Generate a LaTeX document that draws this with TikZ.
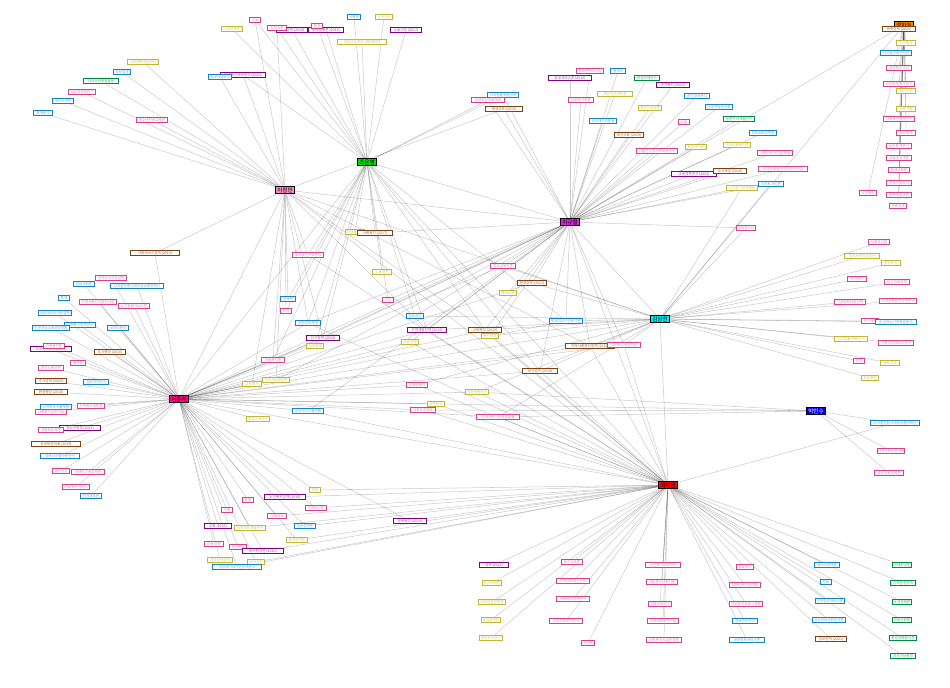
\documentclass[tikz,border=0pt]{standalone}
\usepackage{fontspec}
\setmainfont{Noto Sans CJK KR}
\pgfdeclarelayer{edges}
\pgfsetlayers{edges,main}

\definecolor{leafpk}{HTML}{D6408C}
\definecolor{leafbl}{HTML}{1682C6}
\definecolor{leafol}{HTML}{C2B632}
\definecolor{leafbr}{HTML}{7E4210}
\definecolor{leafpu}{HTML}{800080}
\definecolor{leafgr}{HTML}{008A48}
\definecolor{hubgrn}{HTML}{00E000}
\definecolor{hubpnk}{HTML}{FF88C8}
\definecolor{hubmag}{HTML}{E020E0}
\definecolor{hubcyn}{HTML}{00F0F0}
\definecolor{hubrose}{HTML}{FF0A80}
\definecolor{hubblu}{HTML}{0000FF}
\definecolor{hubred}{HTML}{FF0000}
\definecolor{huborg}{HTML}{FF8800}

\tikzset{
  leaf/.style={draw, fill=white, line width=0.55pt, inner sep=0.2pt, minimum height=3.3pt, font=\fontsize{2.7}{3}\selectfont},
  pk/.style={leaf, draw=leafpk, text=leafpk!70},
  bl/.style={leaf, draw=leafbl, text=leafbl!70},
  ol/.style={leaf, draw=leafol, text=leafol!80},
  br/.style={leaf, draw=leafbr, text=leafbr!80},
  pu/.style={leaf, draw=leafpu, text=leafpu!75},
  gr/.style={leaf, draw=leafgr, text=leafgr!75},
  wd/.style={minimum width=#1*0.75pt-0.5pt},
  hub/.style={draw=black, line width=0.8pt, inner sep=0.3pt, minimum width=14pt, minimum height=5.6pt, font=\fontsize{4.2}{5}\selectfont},
  link/.style={draw=black, opacity=0.2, line width=0.4pt},
}

\begin{document}
\begin{tikzpicture}[x=0.75pt, y=-0.75pt]
  \useasboundingbox (0,0) rectangle (950,688);

  % hubs
  \node[hub, fill=hubgrn] (hub-grn) at (367,162) {조은영};
  \node[hub, fill=hubpnk] (hub-pnk) at (285,190) {이정민};
  \node[hub, fill=hubmag] (hub-mag) at (570,222) {이규철};
  \node[hub, fill=hubcyn] (hub-cyn) at (660,319) {김상현};
  \node[hub, fill=hubrose] (hub-rose) at (179,399) {서준석};
  \node[hub, fill=hubblu, text=white] (hub-blu) at (816,411) {박민수};
  \node[hub, fill=hubred] (hub-red) at (668,485) {최지원};
  \node[hub, fill=huborg] (hub-org) at (904,25) {정하늘};

  % top
  \node[ol, wd=22] (t1) at (232,29) {기후변화론};
  \node[pk, wd=11] (t2) at (255,20) {교육};
  \node[pu, wd=32] (t4) at (292,30) {복지정책 (2018)};
  \node[pk, wd=19] (t3) at (277,28) {지역사회};
  \node[pu, wd=35] (t6) at (326,30) {도시계획론 (2019)};
  \node[pk, wd=11] (t5) at (317,26) {환경};
  \node[bl, wd=14] (t7) at (354,17) {사회학};
  \node[ol, wd=18] (t8) at (384,17) {인구구조};
  \node[pu, wd=32] (t9) at (406,30) {노동시장 (2017)};
  \node[ol, wd=49] (t10) at (362,42) {지속가능한도시재생전략};

  % top left
  \node[ol, wd=31] (a1) at (143,62) {기후변화적응전략};
  \node[bl, wd=18] (a2) at (122,72) {정보검색};
  \node[gr, wd=35] (a3) at (101,81) {지역사회통합돌봄};
  \node[pk, wd=28] (a4) at (82,92) {사회적경제연구};
  \node[bl, wd=22] (a5) at (63,101) {데이터과학};
  \node[bl, wd=19] (a6) at (43,113) {통계분석};
  \node[pk, wd=31] (a7) at (152,120) {청소년진로교육론};
  \node[pu, wd=45] (a9) at (243,75) {지역혁신체계연구 (2020)};
  \node[bl, wd=24] (a8) at (220,77) {빅데이터분석};

  % top middle
  \node[pk, wd=28] (m1) at (590,71) {문화콘텐츠산업};
  \node[bl, wd=16] (m2) at (618,71) {행정학};
  \node[pu, wd=43] (m3) at (570,78) {공공서비스론 (2016)};
  \node[gr, wd=25] (m4) at (647,78) {환경경제연구};
  \node[pu, wd=34] (m5) at (673,85) {주거복지 (2021)};
  \node[bl, wd=32] (m6) at (503,95) {디지털플랫폼경제};
  \node[pk, wd=33] (m7) at (488,100) {공공보건의료체계};
  \node[ol, wd=36] (m8) at (615,94) {재난안전관리론};
  \node[pk, wd=26] (m9) at (581,100) {다문화가족론};
  \node[bl, wd=25] (m10) at (697,96) {공간정보분석};
  \node[br, wd=37] (m11) at (504,109) {평생교육 (2015)};
  \node[ol, wd=24] (m12) at (650,108) {청년고용정책};
  \node[bl, wd=28] (m13) at (719,107) {인공지능윤리학};
  \node[bl, wd=28] (m14) at (603,121) {공공데이터활용};
  \node[pk, wd=12] (m15) at (684,122) {노동};
  \node[gr, wd=31] (m16) at (739,119) {농촌지역개발연구};
  \node[br, wd=30] (m17) at (629,135) {보건의료 (2019)};
  \node[bl, wd=28] (m18) at (763,133) {정보보호정책론};
  \node[ol, wd=22] (m19) at (696,147) {복지국가론};
  \node[ol, wd=28] (m20) at (737,145) {지역사회복지론};
  \node[pk, wd=41] (m21) at (657,151) {저출산고령사회대응연구};
  \node[pk, wd=35] (m22) at (775,153) {사회서비스전달체계};
  \node[pu, wd=45] (m23) at (694,174) {교육격차연구 (2022)};
  \node[br, wd=33] (m24) at (730,171) {도시재생 (2018)};
  \node[pk, wd=49] (m25) at (783,169) {지역균형발전정책연구사업};
  \node[ol, wd=31] (m26) at (742,188) {노인장기요양제도};
  \node[bl, wd=25] (m27) at (771,184) {스마트시티론};
  \node[pk, wd=20] (m28) at (746,228) {아동청소년};

  % top right
  \node[br, wd=34] (r1) at (899,29) {문화정책 (2020)};
  \node[ol, wd=19] (r2) at (906,43) {주거환경};
  \node[bl, wd=32] (r3) at (896,53) {디지털전환전략론};
  \node[pk, wd=25] (r4) at (899,68) {지역혁신사업};
  \node[pk, wd=31] (r5) at (899,84) {공공정책평가연구};
  \node[ol, wd=19] (r6) at (906,91) {재난안전};
  \node[ol, wd=19] (r7) at (906,109) {농촌개발};
  \node[pk, wd=31] (r8) at (899,119) {사회복지행정연구};
  \node[pk, wd=19] (r9) at (906,133) {청년정책};
  \node[pk, wd=25] (r10) at (899,146) {보건통계분석};
  \node[pk, wd=25] (r11) at (899,158) {교육과정개발};
  \node[pk, wd=22] (r12) at (899,170) {평생교육론};
  \node[pk, wd=25] (r13) at (899,183) {지역사회조사};
  \node[pk, wd=25] (r14) at (899,195) {문화예술교육};
  \node[pk, wd=18] (r15) at (868,193) {노인복지};
  \node[pk, wd=18] (r16) at (898,206) {가족정책};

  % right
  \node[pk, wd=22] (e1) at (879,242) {사회조사법};
  \node[ol, wd=36] (e2) at (862,256) {지역사회건강조사};
  \node[ol, wd=19] (e3) at (891,263) {환경보전};
  \node[pk, wd=19] (e4) at (857,279) {주거복지};
  \node[pk, wd=26] (e5) at (897,282) {보건의료정책};
  \node[pk, wd=31] (e6) at (850,302) {기후변화대응전략};
  \node[pk, wd=38] (e7) at (898,301) {지역균형발전정책연구};
  \node[pk, wd=18] (e8) at (870,321) {도시계획};
  \node[bl, wd=42] (e9) at (896,322) {인공지능기반학습분석};
  \node[ol, wd=34] (e10) at (851,339) {디지털플랫폼연구};
  \node[pk, wd=36] (e11) at (896,343) {사회적경제조직연구};
  \node[pk, wd=12] (e12) at (859,361) {안전};
  \node[ol, wd=19] (e13) at (890,363) {문화정책};
  \node[ol, wd=18] (e14) at (870,378) {공공행정};
  \node[bl, wd=50] (f1) at (895,423) {디지털전환시대공공행정혁신};
  \node[pk, wd=28] (f2) at (891,451) {지역사회보장계획};
  \node[pk, wd=29] (f3) at (889,473) {공공의료체계론};

  % centre
  \node[ol, wd=20] (c1) at (355,232) {정책평가론};
  \node[br, wd=35] (c2) at (375,233) {사회복지 (2017)};
  \node[pk, wd=32] (c3) at (308,255) {도시공간구조분석};
  \node[ol, wd=19] (c4) at (382,272) {노동정책};
  \node[pk, wd=25] (c5) at (503,266) {청소년복지론};
  \node[br, wd=30] (c6) at (532,283) {환경정책 (2021)};
  \node[ol, wd=17] (c7) at (508,293) {통계교육};
  \node[bl, wd=15] (c8) at (288,299) {경제학};
  \node[pk, wd=11] (c9) at (388,300) {건강};
  \node[pk, wd=11] (c10) at (286,311) {주거};
  \node[bl, wd=17] (c11) at (415,316) {정보윤리};
  \node[bl, wd=25] (c12) at (308,323) {공간정보체계};
  \node[pu, wd=40] (c13) at (427,330) {지역개발정책 (2016)};
  \node[br, wd=33] (c14) at (485,330) {교육행정 (2019)};
  \node[ol, wd=18] (c15) at (490,336) {복지재정};
  \node[bl, wd=34] (c16) at (566,321) {빅데이터기반분석론};
  \node[pu, wd=34] (c17) at (323,338) {인구정책 (2020)};
  \node[ol, wd=18] (c18) at (315,346) {지역경제};
  \node[ol, wd=17] (c19) at (410,342) {의료정책};
  \node[pk, wd=23] (c20) at (273,360) {아동복지론};
  \node[br, wd=36] (c21) at (540,371) {보건정책 (2018)};
  \node[ol, wd=19] (c22) at (252,384) {교육평가};
  \node[ol, wd=28] (c23) at (276,380) {지속가능발전론};
  \node[pk, wd=21] (c24) at (417,385) {장애인복지};
  \node[ol, wd=24] (c25) at (477,392) {지역문화연구};
  \node[ol, wd=18] (c26) at (436,404) {정책분석};
  \node[pk, wd=25] (c27) at (423,410) {사회보장제도};
  \node[bl, wd=31] (c28) at (308,411) {공공데이터플랫폼};
  \node[pk, wd=44] (c29) at (498,417) {지역사회기반통합돌봄};
  \node[ol, wd=24] (c30) at (258,419) {환경교육연구};
  \node[br, wd=50] (c31) at (590,346) {지역사회복지정책 (2022)};
  \node[pk, wd=33] (c32) at (624,345) {다문화교육정책론};

  % left
  \node[br, wd=50] (w1) at (155,253) {사회서비스정책 (2019)};
  \node[pk, wd=31] (w2) at (111,278) {청년주거지원정책};
  \node[bl, wd=21] (w3) at (84,284) {정보사회론};
  \node[bl, wd=54] (w4) at (137,286) {디지털전환시대의공공행정혁신};
  \node[bl, wd=11] (w5) at (64,298) {통계};
  \node[pk, wd=38] (w6) at (98,302) {지역사회건강증진사업};
  \node[pk, wd=31] (w7) at (134,306) {노인돌봄서비스론};
  \node[bl, wd=33] (w8) at (55,313) {공공데이터개방정책};
  \node[bl, wd=31] (w9) at (80,325) {정보통신정책연구};
  \node[bl, wd=37] (w10) at (51,328) {인공지능교육과정개발};
  \node[bl, wd=21] (w11) at (118,328) {데이터분석};
  \node[pu, wd=41] (w13) at (51,349) {교육복지정책 (2017)};
  \node[pk, wd=21] (w12) at (54,346) {가족복지론};
  \node[br, wd=31] (w14) at (110,352) {도시행정 (2016)};
  \node[pk, wd=15] (w15) at (78,363) {복지학};
  \node[pk, wd=25] (w16) at (51,368) {여성노동정책};
  \node[br, wd=31] (w17) at (51,381) {주거정책 (2020)};
  \node[br, wd=34] (w18) at (51,392) {환경행정 (2018)};
  \node[bl, wd=25] (w19) at (96,382) {정보격차연구};
  \node[bl, wd=31] (w20) at (56,407) {스마트도시플랫폼};
  \node[pk, wd=28] (w21) at (91,406) {지역복지계획론};
  \node[pk, wd=32] (w22) at (51,412) {사회복지실천기술};
  \node[pu, wd=41] (w23) at (80,428) {청소년정책 (2021)};
  \node[pk, wd=26] (w24) at (51,430) {아동보호체계};
  \node[br, wd=50] (w25) at (56,444) {공공보건의료 (2019)};
  \node[bl, wd=40] (w26) at (60,456) {정보시스템구축연구};
  \node[pk, wd=18] (w27) at (61,471) {정신건강};
  \node[pk, wd=34] (w28) at (88,472) {장애인고용정책론};
  \node[pk, wd=28] (w29) at (76,487) {의료복지서비스};
  \node[bl, wd=22] (w30) at (91,496) {전자정부론};

  % bottom left
  \node[ol, wd=12] (s1) at (315,490) {재정};
  \node[pk, wd=12] (s2) at (248,500) {돌봄};
  \node[pu, wd=42] (s3) at (285,497) {노인복지정책 (2018)};
  \node[pk, wd=21] (s4) at (316,508) {지역보건론};
  \node[pk, wd=12] (s5) at (227,510) {가족};
  \node[pk, wd=19] (s6) at (277,516) {사회보장};
  \node[bl, wd=21] (s7) at (305,526) {정보정책론};
  \node[pu, wd=27] (s8) at (218,526) {교육 (2016)};
  \node[ol, wd=32] (s9) at (250,528) {지역사회개발연구};
  \node[pu, wd=33] (s10) at (410,521) {문화행정 (2019)};
  \node[ol, wd=21] (s11) at (297,540) {환경정책론};
  \node[pk, wd=19] (s12) at (214,544) {아동정책};
  \node[pk, wd=18] (s13) at (238,547) {청년복지};
  \node[pu, wd=42] (s14) at (263,551) {복지행정론 (2020)};
  \node[ol, wd=25] (s15) at (220,560) {지역경제정책};
  \node[ol, wd=18] (s16) at (256,562) {녹색성장};
  \node[bl, wd=49] (s17) at (237,567) {공공데이터기반정책분석};

  % bottom
  \node[pu, wd=30] (b1) at (494,565) {정책 (2022)};
  \node[ol, wd=20] (b2) at (492,583) {도시정책론};
  \node[ol, wd=28] (b3) at (492,602) {지역산업정책론};
  \node[ol, wd=20] (b4) at (491,620) {농업정책론};
  \node[ol, wd=24] (b5) at (491,638) {환경보건연구};
  \node[pk, wd=22] (b6) at (572,562) {보건교육론};
  \node[pk, wd=34] (b7) at (573,581) {지역사회정신건강};
  \node[pk, wd=34] (b8) at (573,599) {사회복지정책분석};
  \node[pk, wd=34] (b9) at (566,621) {여성가족정책연구};
  \node[pk, wd=14] (b10) at (588,643) {보건학};
  \node[pk, wd=35] (b11) at (663,565) {노인장기요양연구};
  \node[pk, wd=32] (b12) at (662,582) {아동청소년복지론};
  \node[pk, wd=24] (b13) at (660,604) {가족상담연구};
  \node[pk, wd=31] (b14) at (663,621) {지역사회보건사업};
  \node[pk, wd=35] (b15) at (664,640) {사회복지시설운영론};
  \node[pk, wd=18] (b16) at (745,567) {의료복지};
  \node[pk, wd=31] (b17) at (745,585) {장애인복지정책론};
  \node[pk, wd=34] (b18) at (746,604) {건강증진프로그램론};
  \node[bl, wd=25] (b19) at (745,621) {정보관리연구};
  \node[bl, wd=35] (b20) at (747,640) {공공정보서비스론};
  \node[bl, wd=25] (b21) at (827,565) {데이터정책론};
  \node[bl, wd=12] (b22) at (826,582) {정보};
  \node[bl, wd=30] (b23) at (830,601) {전자정부서비스론};
  \node[bl, wd=34] (b24) at (829,620) {지능정보사회정책론};
  \node[br, wd=32] (b25) at (831,639) {정보정책 (2021)};
  \node[gr, wd=20] (b26) at (902,565) {생태환경론};
  \node[gr, wd=26] (b27) at (903,583) {기후환경정책};
  \node[gr, wd=20] (b28) at (902,602) {녹색경제론};
  \node[gr, wd=20] (b29) at (902,620) {자원순환론};
  \node[gr, wd=28] (b30) at (903,638) {환경영향평가론};
  \node[gr, wd=26] (b31) at (903,656) {지속가능환경};

  \begin{pgfonlayer}{edges}
    \foreach \i in {1,...,10} \draw[link] (hub-grn) -- (t\i);
    \foreach \n in {a9,m6,m7,c1,c2,c3,c4,c8,c9,c10,c11,c12,c13,c14,c16,c17,c18,c20,c21,hub-mag,hub-red,hub-rose}
      \draw[link] (hub-grn) -- (\n);
    \foreach \i in {1,...,9} \draw[link] (hub-pnk) -- (a\i);
    \foreach \n in {m11,w1,c3,c8,c10,c12,c13,c14,c17,c20,c22,c23,c31,t2,t3,hub-rose,hub-red,hub-mag,hub-cyn}
      \draw[link] (hub-pnk) -- (\n);
    \foreach \i in {1,...,28} \draw[link] (hub-mag) -- (m\i);
    \foreach \n in {c2,c5,c6,c7,c9,c11,c12,c13,c14,c15,c16,c17,c19,c20,c21,c23,c28,c31,c32,hub-cyn,hub-red,hub-rose,hub-org}
      \draw[link] (hub-mag) -- (\n);
    \foreach \i in {1,...,14} \draw[link] (hub-cyn) -- (e\i);
    \foreach \n in {c5,c6,c11,c13,c14,c15,c16,c21,c24,c25,c29,c31,c32,m26,m27,m28,hub-red,hub-rose,hub-org}
      \draw[link] (hub-cyn) -- (\n);
    \foreach \i in {1,...,30} \draw[link] (hub-rose) -- (w\i);
    \foreach \i in {1,...,17} \draw[link] (hub-rose) -- (s\i);
    \foreach \n in {c5,c6,c12,c13,c14,c16,c17,c18,c19,c20,c21,c22,c23,c24,c25,c26,c27,c28,c29,c30,c31,c32,hub-blu,hub-red}
      \draw[link] (hub-rose) -- (\n);
    \foreach \n in {f1,f2,f3,c25,c27,c29}
      \draw[link] (hub-blu) -- (\n);
    \foreach \i in {1,...,31} \draw[link] (hub-red) -- (b\i);
    \foreach \n in {f1,s1,s3,s4,s6,s7,s9,s10,s11,s14,s16,s17,c3,c12,c13,c14,c15,c19,c21,c24,c25,c26,c27,c28,c29,c31,c32}
      \draw[link] (hub-red) -- (\n);
    \foreach \i in {1,...,16} \draw[link] (hub-org) -- (r\i);
  \end{pgfonlayer}
\end{tikzpicture}
\end{document}
